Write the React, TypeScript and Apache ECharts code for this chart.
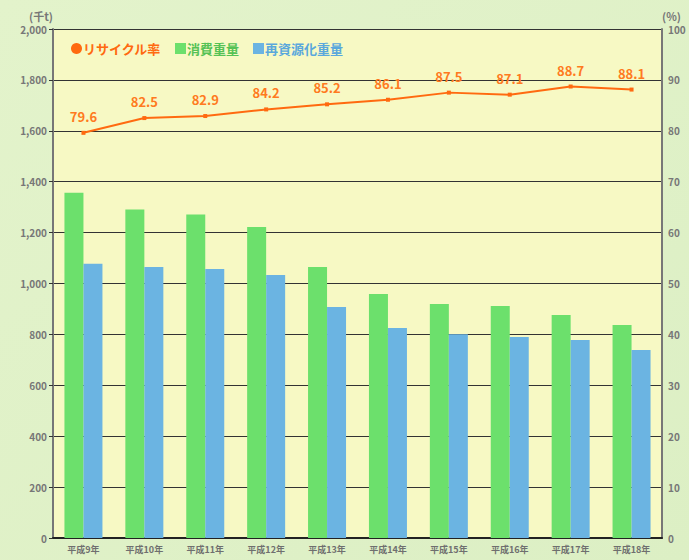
import React, { useEffect, useRef } from "react";
import * as echarts from "echarts";

const categories = ["平成9年", "平成10年", "平成11年", "平成12年", "平成13年", "平成14年", "平成15年", "平成16年", "平成17年", "平成18年"];
const consumption = [1357, 1291, 1271, 1222, 1065, 959, 919, 912, 876, 837];
const recycled = [1078, 1065, 1057, 1033, 908, 825, 801, 790, 778, 739];
const recycleRate = [79.6, 82.5, 82.9, 84.2, 85.2, 86.1, 87.5, 87.1, 88.7, 88.1];

export default function App() {
  const ref = useRef<HTMLDivElement>(null);
  useEffect(() => {
    if (!ref.current) return;
    const chart = echarts.init(ref.current, null, { renderer: "svg" });
    const font = "'Noto Sans CJK JP', 'Noto Sans', sans-serif";
    chart.setOption({
      animation: false,
      backgroundColor: {
        type: "linear", x: 0, y: 0, x2: 1, y2: 1,
        colorStops: [{ offset: 0, color: "#e3f3cb" }, { offset: 1, color: "#dcefc4" }],
      },
      textStyle: { fontFamily: font },
      legend: {
        left: 66, top: 37, itemGap: 14, itemWidth: 11, itemHeight: 11,
        textStyle: { fontSize: 13, fontWeight: "bold", fontFamily: font, padding: [0, 0, 0, -4] },
        data: [
          { name: "リサイクル率", icon: "circle", textStyle: { color: "#ff6a10" }, itemStyle: { color: "#ff6a10" } },
          { name: "消費重量", icon: "rect", textStyle: { color: "#55c255" } },
          { name: "再資源化重量", icon: "rect", textStyle: { color: "#5aa8dc" } },
        ],
      },
      grid: {
        left: 53, right: 27, top: 29, bottom: 22,
        show: true, backgroundColor: "#f7f9c4", borderColor: "#333", borderWidth: 0,
      },
      xAxis: {
        type: "category", data: categories,
        axisLine: { lineStyle: { color: "#222", width: 2 } },
        axisTick: { inside: true, length: 4, lineStyle: { color: "#666" } },
        axisLabel: { color: "#6f6f6f", fontSize: 9, fontWeight: "bold", margin: 7, interval: 0 },
      },
      yAxis: [
        {
          type: "value", min: 0, max: 2000, interval: 200,
          name: "(千t)", nameLocation: "end", nameGap: 8,
          nameTextStyle: { color: "#777", fontSize: 11, fontWeight: "bold", align: "right" },
          axisLine: { show: true, lineStyle: { color: "#777", width: 2 } },
          axisTick: { show: true, length: 4, lineStyle: { color: "#333" } },
          splitLine: { lineStyle: { color: "#333", width: 1.2 } },
          axisLabel: {
            color: "#777", fontSize: 10, fontWeight: "bold", margin: 6,
            formatter: (v: number) => v.toLocaleString("en-US"),
          },
        },
        {
          type: "value", min: 0, max: 100, interval: 10,
          name: "(%)", nameLocation: "end", nameGap: 8,
          nameTextStyle: { color: "#777", fontSize: 11, fontWeight: "bold", align: "left" },
          axisLine: { show: true, lineStyle: { color: "#777", width: 2 } },
          axisTick: { show: false },
          splitLine: { show: false },
          axisLabel: { color: "#777", fontSize: 10, fontWeight: "bold", margin: 6 },
        },
      ],
      series: [
        {
          name: "消費重量", type: "bar", data: consumption, barWidth: 19, barGap: "0%",
          itemStyle: { color: "#6ce06c" },
        },
        {
          name: "再資源化重量", type: "bar", data: recycled, barWidth: 19,
          itemStyle: { color: "#6bb4e2" },
        },
        {
          name: "リサイクル率", type: "line", yAxisIndex: 1, data: recycleRate,
          symbol: "rect", symbolSize: 4,
          lineStyle: { color: "#ff6a10", width: 2 },
          itemStyle: { color: "#ff6a10" },
          label: {
            show: true, position: "top", distance: 8, color: "#ff7a20",
            fontSize: 13, fontWeight: "bold", formatter: (p: any) => p.value.toFixed(1),
          },
          z: 5,
        },
      ],
    });
    return () => chart.dispose();
  }, []);
  return (
    <div
      ref={ref}
      style={{ position: "fixed", left: 0, top: 0, width: 689, height: 560 }}
    />
  );
}
